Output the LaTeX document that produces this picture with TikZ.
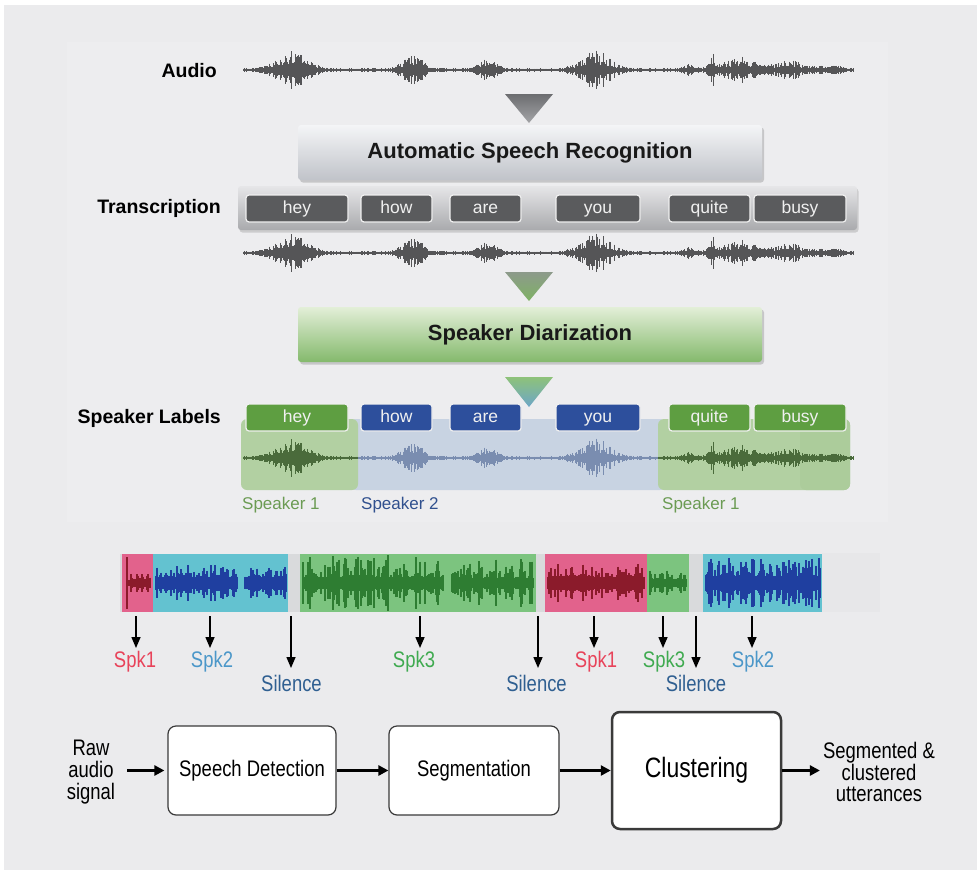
\documentclass[tikz,border=0pt]{standalone}
\usepackage{fontspec}
\setmainfont{Liberation Sans}
\newfontfamily\condfont[FakeStretch=0.82]{Liberation Sans}
\usetikzlibrary{arrows.meta,shadows}

\definecolor{bgc}{HTML}{EBEBED}
\definecolor{panelc}{HTML}{EDEDEF}
\definecolor{wavegray}{HTML}{555557}
\definecolor{tri1a}{HTML}{6C6D70}
\definecolor{tri1b}{HTML}{A3A4A7}
\definecolor{asrtop}{HTML}{F4F5F7}
\definecolor{asrbot}{HTML}{C0C3C9}
\definecolor{tbartop}{HTML}{E6E6E8}
\definecolor{tbarbot}{HTML}{A9AAAD}
\definecolor{wgray}{HTML}{5A5B5D}
\definecolor{tri2a}{HTML}{8D9A8B}
\definecolor{tri2b}{HTML}{7EB264}
\definecolor{diartop}{HTML}{E3EFD8}
\definecolor{diarbot}{HTML}{84B96C}
\definecolor{tri3a}{HTML}{8EC279}
\definecolor{tri3b}{HTML}{6CA6C8}
\definecolor{greenreg}{HTML}{B2D0A2}
\definecolor{greenreg2}{HTML}{ACCC9B}
\definecolor{bluereg}{HTML}{C8D3E2}
\definecolor{wgreen}{HTML}{5E9E41}
\definecolor{wblue}{HTML}{2D4F9C}
\definecolor{wavegreen}{HTML}{4A6B3B}
\definecolor{waveblue}{HTML}{7A8DB0}
\definecolor{spkonec}{HTML}{6B9B53}
\definecolor{spktwoc}{HTML}{30508E}
\definecolor{pinkseg}{HTML}{E2628C}
\definecolor{cyanseg}{HTML}{63C2D0}
\definecolor{greenseg}{HTML}{7CC47F}
\definecolor{stripbg}{HTML}{D9DADC}
\definecolor{striptail}{HTML}{E7E7E9}
\definecolor{dred}{HTML}{8B1B2B}
\definecolor{dblue}{HTML}{1F3FA0}
\definecolor{dgreen}{HTML}{2E7D32}
\definecolor{lred}{HTML}{E8435A}
\definecolor{lblue}{HTML}{4B97C9}
\definecolor{lgreen}{HTML}{3FAA50}
\definecolor{lsil}{HTML}{2F5F91}
\definecolor{boxline}{HTML}{3A3A3A}

\newcommand\topwave[4]{%
  \pgfmathsetseed{11}%
  \foreach \x in {243,244,...,853}{%
    \pgfmathsetmacro\r{rnd}%
    \pgfmathsetmacro\h{0.7+envA(\x)*(0.25+0.75*\r)}%
    \ifdim\x pt<358pt\relax\def\wc{#2}\else\ifdim\x pt<658pt\relax\def\wc{#3}\else\def\wc{#4}\fi\fi
    \draw[line width=0.45pt,draw=\wc] (\x,{#1-\h}) -- (\x,{#1+\h});
  }%
}
\newcommand\stripwave[6]{%
  \pgfmathsetseed{#6}%
  \foreach \x in {#1,...,#2}{%
    \pgfmathsetmacro\r{rnd}%
    \pgfmathsetmacro\h{#4+#5*\r*\r*\r}%
    \draw[line width=1.1pt,draw=#3] (\x,{583-\h}) -- (\x,{583+\h});
  }%
}

\tikzset{
  toplab/.style={anchor=east,inner sep=0pt,font=\bfseries\fontsize{19.5}{22}\selectfont},
  bigbox/.style={rounded corners=3pt,minimum width=464pt,minimum height=55pt,
    font=\bfseries\fontsize{22}{24}\selectfont,text=black!90,
    drop shadow={opacity=0.35,shadow xshift=2pt,shadow yshift=-2.5pt}},
  tbarstyle/.style={rounded corners=3pt,minimum width=619pt,minimum height=44pt,
    top color=tbartop,bottom color=tbarbot,
    drop shadow={opacity=0.3,shadow xshift=1.5pt,shadow yshift=-2.5pt}},
  wordbox/.style={rounded corners=3pt,draw=white!88!gray,line width=1.2pt,minimum height=27pt,
    inner sep=0pt,text height=13pt,text depth=4pt,font=\fontsize{17.5}{20}\selectfont,text=white!94!black},
  spkname/.style={anchor=west,inner sep=0pt,font=\fontsize{17}{20}\selectfont},
  region/.style={rounded corners=6pt},
  seglab/.style={anchor=north,inner sep=3pt,text height=16pt,text depth=5pt,
    font=\condfont\fontsize{22.5}{24}\selectfont},
  downarrow/.style={line width=1.5pt,-{Triangle[length=11pt,width=9pt]}},
  flowbox/.style={draw=boxline,line width=1.2pt,fill=white,rounded corners=8pt,
    font=\condfont\fontsize{22.5}{24}\selectfont},
  flowtext/.style={align=center,inner sep=3pt,font=\condfont\fontsize{22.5}{21.7}\selectfont},
  flowarrow/.style={line width=2.5pt,-{Triangle[length=10pt,width=10pt]}}
}

\begin{document}
\begin{tikzpicture}[x=1pt,y=-1pt,
  declare function={
    g(\t,\c,\w)=exp(max(-12,-((\t-\c)/\w)*((\t-\c)/\w)));
    envA(\t)=1+19*g(\t,292,20)+15*g(\t,412,13)+11*g(\t,487,11)+18*g(\t,595,19)
      +4*g(\t,688,7)+16*g(\t,712,5)+9*g(\t,738,16)+6*g(\t,790,12)+4*g(\t,765,45)+3*g(\t,830,14);
  }]
\useasboundingbox (0,0) rectangle (977,870);
\fill[white] (0,0) rectangle (977,870);
\fill[bgc] (4,5) rectangle (977,870);
\fill[panelc] (67,42) rectangle (888,522);

% ---------- top: audio ----------
\node[toplab] (audio) at (217,71) {Audio};
\topwave{70}{wavegray}{wavegray}{wavegray}
\shade[top color=tri1a,bottom color=tri1b] (505,94) -- (553,94) -- (529,123) -- cycle;
\node[bigbox,top color=asrtop,bottom color=asrbot] (asr) at (530,152.5) {Automatic Speech Recognition};

% ---------- transcription ----------
\node[toplab] (trans) at (221,208) {Transcription};
\node[tbarstyle] (tbar) at (547.5,208) {};
\node[wordbox,fill=wgray,minimum width=102pt] (w1) at (297,208.5) {hey};
\node[wordbox,fill=wgray,minimum width=71pt] (w2) at (396.5,208.5) {how};
\node[wordbox,fill=wgray,minimum width=71pt] (w3) at (485.5,208.5) {are};
\node[wordbox,fill=wgray,minimum width=84pt] (w4) at (598,208.5) {you};
\node[wordbox,fill=wgray,minimum width=81pt] (w5) at (709.5,208.5) {quite};
\node[wordbox,fill=wgray,minimum width=92pt] (w6) at (800,208.5) {busy};
\topwave{253}{wavegray}{wavegray}{wavegray}

% ---------- diarization ----------
\shade[top color=tri2a,bottom color=tri2b] (505,272) -- (553,272) -- (529,301) -- cycle;
\node[bigbox,top color=diartop,bottom color=diarbot] (diar) at (530,334.5) {Speaker Diarization};

% ---------- speaker labels ----------
\node[toplab] (spkl) at (221,418) {Speaker Labels};
\fill[bluereg,region] (350,419) rectangle (666,490);
\fill[greenreg,region] (241,419) rectangle (358,490);
\fill[greenreg,region] (658,419) rectangle (850,490);
\fill[greenreg2,region] (800,419) rectangle (850,490);
\topwave{458}{wavegreen}{waveblue}{wavegreen}
\node[wordbox,fill=wgreen,minimum width=102pt] (s1) at (297,417.5) {hey};
\node[wordbox,fill=wblue,minimum width=71pt] (s2) at (396.5,417.5) {how};
\node[wordbox,fill=wblue,minimum width=71pt] (s3) at (485.5,417.5) {are};
\node[wordbox,fill=wblue,minimum width=84pt] (s4) at (598,417.5) {you};
\node[wordbox,fill=wgreen,minimum width=81pt] (s5) at (709.5,417.5) {quite};
\node[wordbox,fill=wgreen,minimum width=92pt] (s6) at (800,417.5) {busy};
\shade[top color=tri3a,bottom color=tri3b] (505,377) -- (553,377) -- (529,407) -- cycle;
\node[spkname,text=spkonec] (n1) at (242,505) {Speaker 1};
\node[spkname,text=spktwoc] (n2) at (361,505) {Speaker 2};
\node[spkname,text=spkonec] (n3) at (662,505) {Speaker 1};

% ---------- segment strip ----------
\fill[striptail] (822,553) rectangle (880,612);
\fill[stripbg] (120,554) rectangle (822,612);
\fill[pinkseg] (122,554) rectangle (153,612);
\fill[cyanseg] (153,554) rectangle (288,612);
\fill[greenseg] (300,554) rectangle (536,612);
\fill[pinkseg] (545,554) rectangle (647,612);
\fill[greenseg] (647,554) rectangle (689,612);
\fill[cyanseg] (703,554) rectangle (822,612);
\stripwave{129}{150}{dred}{3}{7}{3}
\draw[line width=1.6pt,dred] (127,557) -- (127,609);
\stripwave{156}{237}{dblue}{6}{12}{5}
\stripwave{245}{286}{dblue}{6}{11}{6}
\stripwave{303}{443}{dgreen}{6}{22}{7}
\stripwave{452}{533}{dgreen}{5}{19}{8}
\stripwave{548}{644}{dred}{6}{13}{9}
\stripwave{650}{686}{dgreen}{4}{9}{10}
\stripwave{706}{820}{dblue}{7}{19}{12}

% arrows and labels
\coordinate (a1) at (136,616);
\coordinate (a2) at (210,616);
\coordinate (a3) at (291,616);
\coordinate (a4) at (420,616);
\coordinate (a5) at (538,616);
\coordinate (a6) at (594,616);
\coordinate (a7) at (663,616);
\coordinate (a8) at (696,616);
\coordinate (a9) at (752,616);
\node[seglab,text=lred] (l1) at (135,648) {Spk1};
\node[seglab,text=lblue] (l2) at (212,648) {Spk2};
\node[seglab,text=lsil] (l3) at (291.5,672) {Silence};
\node[seglab,text=lgreen] (l4) at (414,648) {Spk3};
\node[seglab,text=lred] (l6) at (596,648) {Spk1};
\node[seglab,text=lsil] (l5) at (536.5,672) {Silence};
\node[seglab,text=lgreen] (l7) at (664,648) {Spk3};
\node[seglab,text=lsil] (l8) at (696,672) {Silence};
\node[seglab,text=lblue] (l9) at (753,648) {Spk2};
\draw[downarrow] (a1) -- (a1 |- l1.north);
\draw[downarrow] (a2) -- (a2 |- l2.north);
\draw[downarrow,shorten >=4pt] (a3) -- (a3 |- l3.north);
\draw[downarrow] (a4) -- (a4 |- l4.north);
\draw[downarrow,shorten >=4pt] (a5) -- (a5 |- l5.north);
\draw[downarrow] (a6) -- (a6 |- l6.north);
\draw[downarrow] (a7) -- (a7 |- l7.north);
\draw[downarrow,shorten >=4pt] (a8) -- (a8 |- l8.north);
\draw[downarrow] (a9) -- (a9 |- l9.north);

% ---------- pipeline ----------
\node[flowtext] (raw) at (91,772) {Raw\\audio\\signal};
\node[flowbox,minimum width=168pt,minimum height=89pt] (sd) at (252,770.5) {Speech Detection};
\node[flowbox,minimum width=170pt,minimum height=89pt] (seg) at (474,770.5) {Segmentation};
\node[flowbox,line width=2.5pt,minimum width=169pt,minimum height=117pt,
  font=\condfont\fontsize{28}{30}\selectfont] (clu) at (696.5,770.5) {Clustering};
\node[flowtext] (out) at (879,772) {Segmented \&\\clustered\\utterances};
\draw[flowarrow,shorten <=9pt,shorten >=3pt] (raw.east |- sd.west) -- (sd.west);
\draw[flowarrow] (sd.east) -- (seg.west);
\draw[flowarrow] (seg.east) -- (clu.west);
\draw[flowarrow] (clu.east) -- (out.west |- clu.east);
\end{tikzpicture}
\end{document}
